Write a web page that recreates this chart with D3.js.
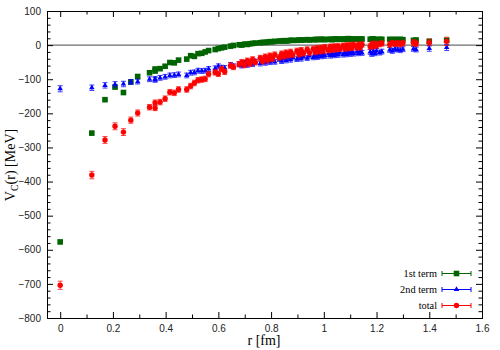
<!DOCTYPE html>
<html><head><meta charset="utf-8">
<script src="https://cdn.jsdelivr.net/npm/d3@7"></script>
<style>body{margin:0;background:#fff}</style>
</head><body><svg id="c" width="500" height="350"></svg>
<script>
const rValues = [
  0, 0.12, 0.17, 0.208, 0.24, 0.268, 0.294, 0.339, 0.36, 0.36,
  0.379, 0.398, 0.416, 0.433, 0.449, 0.48, 0.495, 0.509, 0.523, 0.537,
  0.55, 0.563, 0.588, 0.6, 0.612, 0.624, 0.646, 0.657, 0.679, 0.689,
  0.7, 0.71, 0.72, 0.73, 0.74, 0.759, 0.768, 0.778, 0.787, 0.796,
  0.805, 0.814, 0.831, 0.84, 0.849, 0.857, 0.865, 0.874, 0.882, 0.898,
  0.906, 0.914, 0.922, 0.937, 0.945, 0.96, 0.967, 0.975, 0.982, 0.99,
  0.997, 1.004, 1.018, 1.025, 1.032, 1.039, 1.046, 1.053, 1.06, 1.073,
  1.08, 1.087, 1.093, 1.1, 1.106, 1.113, 1.126, 1.132, 1.138, 1.145,
  1.176, 1.182, 1.188, 1.194, 1.2, 1.212, 1.22, 1.25, 1.26, 1.27,
  1.28, 1.29, 1.3, 1.34, 1.35, 1.4, 1.466
];
const firstTerm = [
  -577, -258, -160, -123, -139, -108, -92, -81, -76, -70,
  -69, -62, -51, -52, -44, -41, -31, -33, -25, -24,
  -20, -16, -13, -10, -8, -6, -3, -1, 1, 0,
  3, 2, 4, 5, 6, 7, 8, 8, 9, 10,
  10, 11, 12, 12, 13, 12, 13, 14, 14, 14,
  15, 15, 15, 16, 15, 16, 16, 17, 16, 17,
  17, 16, 17, 17, 16, 18, 17, 18, 17, 18,
  17, 18, 19, 18, 17, 18, 18, 17, 18, 18,
  17, 18, 18, 17, 16, 17, 17, 17, 16, 17,
  16, 17, 16, 14, 15, 11, 14
];
const secondTerm = [
  -128, -125, -118, -115, -114, -108, -107, -100, -99, -102,
  -96, -93, -89, -88, -86, -89, -81, -80, -75, -76,
  -75, -70, -68, -62, -66, -67, -58, -62, -56, -60,
  -52, -58, -50, -56, -48, -54, -46, -52, -44, -50,
  -43, -49, -41, -47, -39, -45, -38, -43, -36, -41,
  -35, -40, -33, -38, -31, -36, -30, -35, -29, -33,
  -28, -32, -26, -31, -25, -30, -24, -29, -23, -28,
  -22, -27, -21, -26, -20, -25, -20, -24, -19, -23,
  -20, -26, -18, -24, -17, -22, -19, -14, -17, -12,
  -13, -15, -12, -11, -13, -10, -7
];
const secondErr = [
  9, 8, 8, 8, 8, 7, 7, 7, 7, 7,
  7, 7, 7, 7, 7, 7, 7, 7, 7, 7,
  7, 7, 7, 7, 7, 7, 7, 7, 7, 7,
  7, 7, 7, 7, 7, 7, 7, 7, 7, 7,
  7, 7, 7, 7, 7, 7, 7, 7, 7, 7,
  7, 7, 7, 7, 7, 7, 7, 7, 7, 7,
  7, 7, 7, 7, 7, 7, 7, 7, 7, 7,
  7, 7, 7, 7, 7, 7, 7, 7, 7, 7,
  7, 7, 7, 7, 7, 7, 7, 7, 7, 7,
  7, 7, 7, 7, 7, 8, 9
];
const total = [
  -704, -381, -278, -238, -255, -220, -199, -182, -184, -169,
  -167, -157, -138, -140, -130, -130, -120, -111, -103, -101,
  -99, -85, -80, -84, -70, -78, -60, -64, -56, -50,
  -58, -46, -54, -42, -50, -38, -47, -34, -44, -31,
  -40, -28, -36, -25, -33, -22, -30, -20, -28, -17,
  -27, -15, -24, -13, -22, -11, -20, -9, -18, -8,
  -17, -6, -15, -5, -13, -4, -12, -3, -11, -2,
  -10, -1, -9, 0, -8, 1, -7, 1, -6, 2,
  -4, 3, -3, 4, -1, 3, 5, 2, 6, 4,
  5, 3, 6, 7, 5, 8, 11
];
const totalErr = [
  12, 11, 10, 10, 10, 9, 9, 8, 8, 8,
  8, 8, 8, 8, 8, 8, 8, 8, 8, 8,
  8, 8, 8, 8, 8, 8, 8, 8, 8, 8,
  8, 8, 8, 8, 8, 8, 8, 8, 8, 8,
  8, 8, 8, 8, 8, 8, 8, 8, 8, 8,
  8, 8, 8, 8, 8, 8, 8, 8, 8, 8,
  8, 8, 8, 8, 8, 8, 8, 8, 8, 8,
  8, 8, 8, 8, 8, 8, 8, 8, 8, 8,
  8, 8, 8, 8, 8, 8, 8, 8, 8, 8,
  8, 8, 8, 9, 9, 10, 12
];
const xTicks = [0, 0.2, 0.4, 0.6, 0.8, 1, 1.2, 1.4, 1.6];
const xMinorTicks = [0.1, 0.3, 0.5, 0.7, 0.9, 1.1, 1.3, 1.5];
const yTicks = [100, 0, -100, -200, -300, -400, -500, -600, -700, -800];
const yMinorTicks = [80, 60, 40, 20, -20, -40, -60, -80, -120, -140, -160, -180, -220, -240, -260, -280,
  -320, -340, -360, -380, -420, -440, -460, -480, -520, -540, -560, -580, -620, -640, -660, -680,
  -720, -740, -760, -780];
const legendLabels = ["1st term", "2nd term", "total"];
const seriesColors = ["#006400", "#0000ff", "#ff0000"];

const svg = d3.select("#c");
const x = d3.scaleLinear().domain([-0.05, 1.6]).range([47, 482]);
const y = d3.scaleLinear().domain([-800, 100]).range([318, 11]);
const L = 47.5, R = 482.5, T = 11.5, B = 318.5;
const sans = "'Liberation Sans', Arial, sans-serif";
const serif = "'Liberation Serif', 'Times New Roman', serif";

svg.append("line").attr("x1", L).attr("x2", R).attr("y1", y(0)).attr("y2", y(0))
  .attr("stroke", "#6e6e6e").attr("stroke-width", 1.2);

function styleAxis(g, labels) {
  g.select(".domain").remove();
  g.selectAll(".tick line").attr("stroke", "#000").attr("stroke-width", 1);
  g.selectAll(".tick text").attr("font-family", sans).attr("font-size", 10).attr("fill", "#222");
  if (!labels) g.selectAll(".tick text").remove();
}
const fmtX = d => String(d);
svg.append("g").attr("transform", `translate(0,${B - 0.5})`)
  .call(d3.axisBottom(x).tickValues(xTicks).tickFormat(fmtX).tickSizeInner(-6).tickSizeOuter(0).tickPadding(7))
  .call(g => styleAxis(g, true));
svg.append("g").attr("transform", `translate(0,${B - 0.5})`)
  .call(d3.axisBottom(x).tickValues(xMinorTicks).tickSizeInner(-3.5).tickSizeOuter(0))
  .call(g => styleAxis(g, false));
svg.append("g").attr("transform", `translate(0,${T - 0.5})`)
  .call(d3.axisTop(x).tickValues(xTicks).tickSizeInner(-6).tickSizeOuter(0))
  .call(g => styleAxis(g, false));
svg.append("g").attr("transform", `translate(0,${T - 0.5})`)
  .call(d3.axisTop(x).tickValues(xMinorTicks).tickSizeInner(-3.5).tickSizeOuter(0))
  .call(g => styleAxis(g, false));
svg.append("g").attr("transform", `translate(${L - 0.5},0)`)
  .call(d3.axisLeft(y).tickValues(yTicks).tickFormat(d3.format("d")).tickSizeInner(-6).tickSizeOuter(0).tickPadding(6))
  .call(g => styleAxis(g, true));
svg.append("g").attr("transform", `translate(${L - 0.5},0)`)
  .call(d3.axisLeft(y).tickValues(yMinorTicks).tickSizeInner(-3.5).tickSizeOuter(0))
  .call(g => styleAxis(g, false));
svg.append("g").attr("transform", `translate(${R - 0.5},0)`)
  .call(d3.axisRight(y).tickValues(yTicks).tickSizeInner(-6).tickSizeOuter(0))
  .call(g => styleAxis(g, false));
svg.append("g").attr("transform", `translate(${R - 0.5},0)`)
  .call(d3.axisRight(y).tickValues(yMinorTicks).tickSizeInner(-3.5).tickSizeOuter(0))
  .call(g => styleAxis(g, false));

svg.append("rect").attr("x", L).attr("y", T).attr("width", R - L).attr("height", B - T)
  .attr("fill", "none").attr("stroke", "#000").attr("stroke-width", 1);

svg.append("text").attr("x", 264).attr("y", 345).attr("text-anchor", "middle")
  .attr("font-family", serif).attr("font-size", 14).text("r [fm]");
const yl = svg.append("text").attr("transform", "translate(15,165) rotate(-90)")
  .attr("text-anchor", "middle").attr("font-family", serif).attr("font-size", 14);
yl.append("tspan").text("V");
yl.append("tspan").attr("font-size", 10).attr("dy", 3).text("C");
yl.append("tspan").attr("dy", -3).text("(r) [MeV]");

const plot = svg.append("g");
const idx = d3.range(rValues.length);

function errBars(vals, errs, color) {
  const g = plot.append("g").attr("stroke", color).attr("stroke-width", 1).attr("opacity", 0.75);
  idx.forEach(i => {
    const cx = x(rValues[i]), y1 = y(vals[i] - errs[i]), y2 = y(vals[i] + errs[i]);
    g.append("line").attr("x1", cx).attr("x2", cx).attr("y1", y1).attr("y2", y2);
    g.append("line").attr("x1", cx - 2.5).attr("x2", cx + 2.5).attr("y1", y1).attr("y2", y1);
    g.append("line").attr("x1", cx - 2.5).attr("x2", cx + 2.5).attr("y1", y2).attr("y2", y2);
  });
}
plot.append("g").selectAll("rect").data(idx).join("rect")
  .attr("x", i => x(rValues[i]) - 2.8).attr("y", i => y(firstTerm[i]) - 2.8)
  .attr("width", 5.6).attr("height", 5.6).attr("fill", seriesColors[0]);
errBars(secondTerm, secondErr, seriesColors[1]);
const tri = d3.symbol().type(d3.symbolTriangle).size(13);
plot.append("g").selectAll("path").data(idx).join("path")
  .attr("d", tri).attr("transform", i => `translate(${x(rValues[i])},${y(secondTerm[i])})`)
  .attr("fill", seriesColors[1]);
errBars(total, totalErr, seriesColors[2]);
plot.append("g").selectAll("circle").data(idx).join("circle")
  .attr("cx", i => x(rValues[i])).attr("cy", i => y(total[i])).attr("r", 2.7)
  .attr("fill", seriesColors[2]);

const lg = svg.append("g");
legendLabels.forEach((lab, k) => {
  const cy = 273.5 + k * 16;
  lg.append("text").attr("x", 437).attr("y", cy + 3.5).attr("text-anchor", "end")
    .attr("font-family", serif).attr("font-size", 10.3).attr("fill", "#000").text(lab);
  const c = seriesColors[k];
  lg.append("line").attr("x1", 442).attr("x2", 471).attr("y1", cy).attr("y2", cy).attr("stroke", c);
  lg.append("line").attr("x1", 442).attr("x2", 442).attr("y1", cy - 2.5).attr("y2", cy + 2.5).attr("stroke", c);
  lg.append("line").attr("x1", 471).attr("x2", 471).attr("y1", cy - 2.5).attr("y2", cy + 2.5).attr("stroke", c);
  if (k === 0) lg.append("rect").attr("x", 456.5 - 2.8).attr("y", cy - 2.8).attr("width", 5.6).attr("height", 5.6).attr("fill", c);
  if (k === 1) lg.append("path").attr("d", tri).attr("transform", `translate(456.5,${cy})`).attr("fill", c);
  if (k === 2) lg.append("circle").attr("cx", 456.5).attr("cy", cy).attr("r", 2.7).attr("fill", c);
});
</script>
</body></html>
